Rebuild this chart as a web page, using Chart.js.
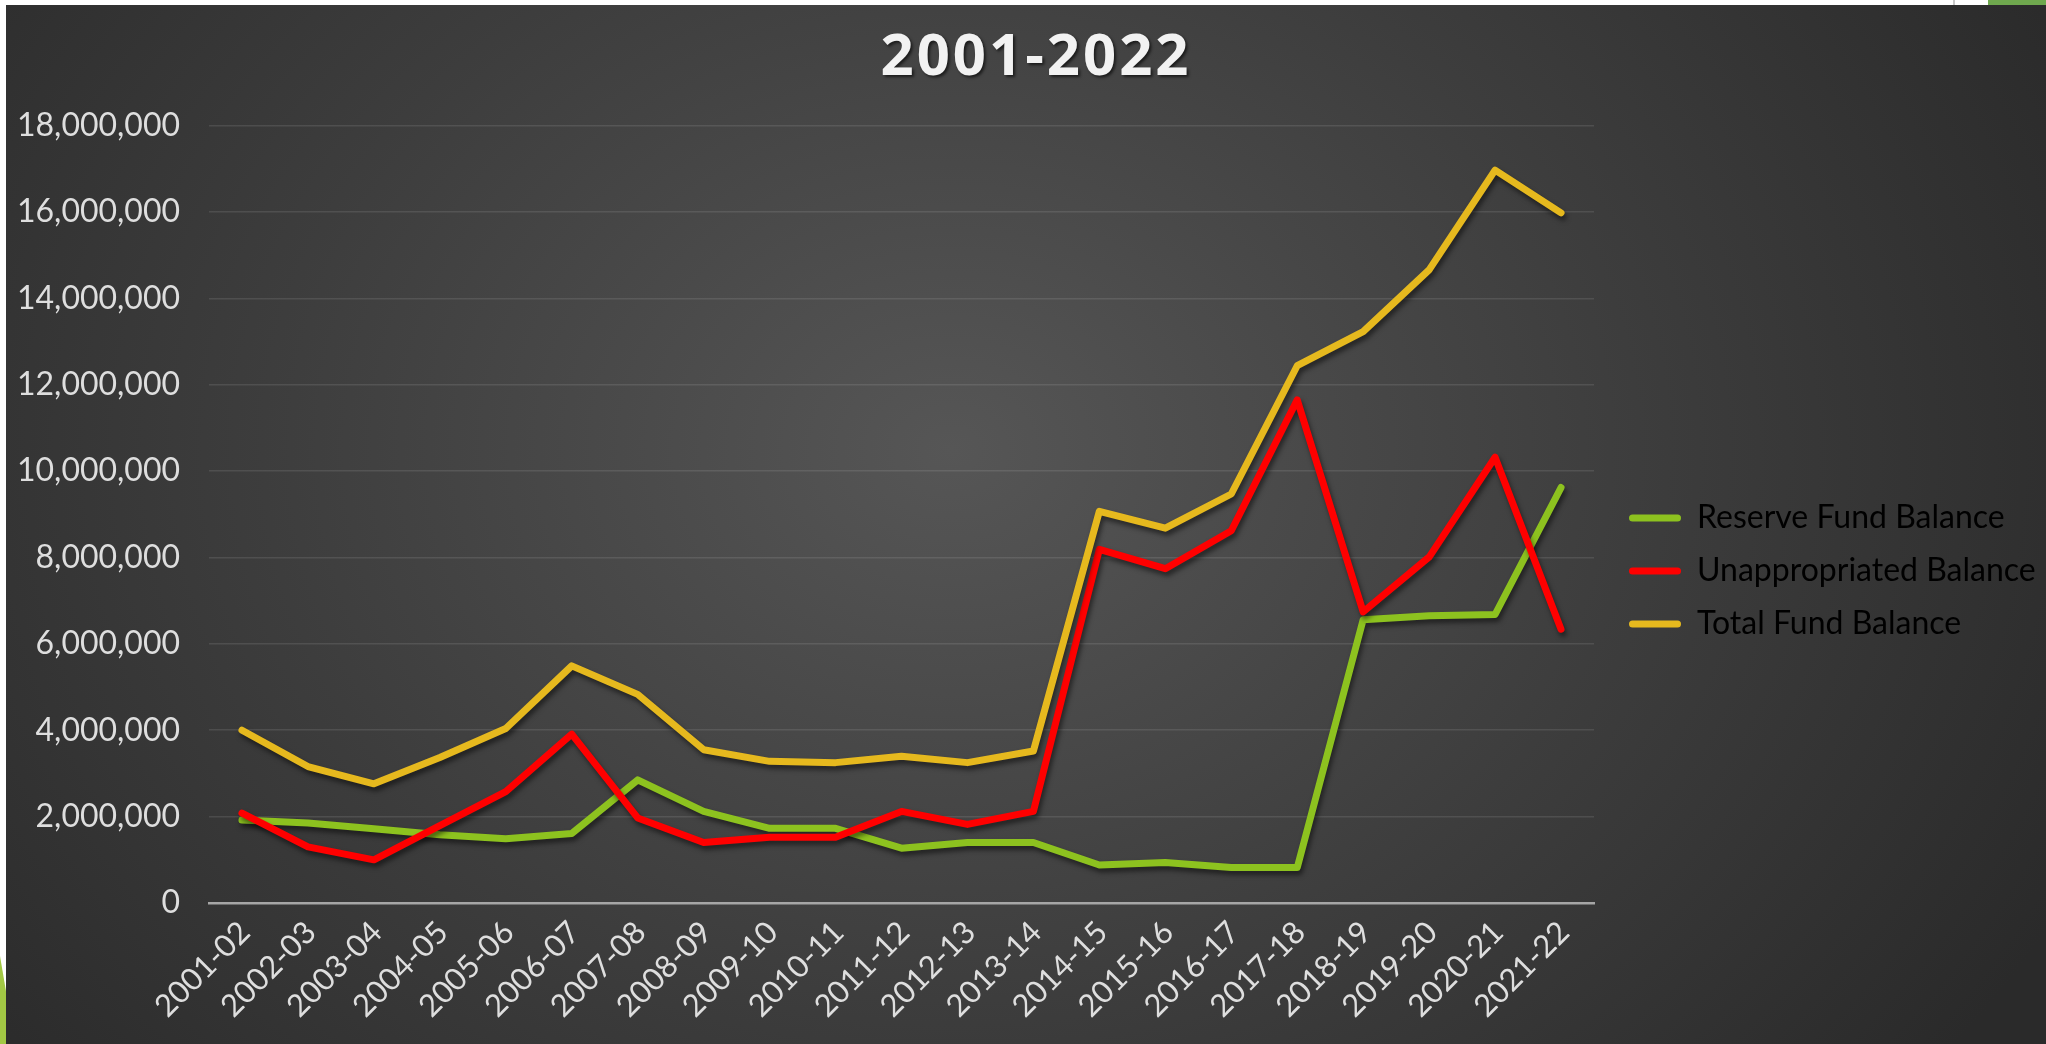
<!DOCTYPE html>
<html lang="en">
<head>
<meta charset="utf-8">
<title>2001-2022</title>
<script src="https://cdn.jsdelivr.net/npm/chart.js@4.4.1/dist/chart.umd.min.js"></script>
<style>
  html, body { margin: 0; padding: 0; }
  body { width: 2046px; height: 1044px; overflow: hidden; position: relative; background: #ffffff; }
  .slide {
    position: absolute; left: 6px; top: 5px; width: 2040px; height: 1039px;
    background: radial-gradient(ellipse 1250px 1000px at 945px 445px, #565656 0%, #3d3d3d 55%, #2a2a2a 100%);
  }
  .accent-top { position: absolute; left: 1988px; top: 0; width: 58px; height: 5px; background: #6fa84e; }
  .accent-line { position: absolute; left: 1953px; top: 0; width: 2px; height: 5px; background: #c8c8c8; }
  .accent-left {
    position: absolute; left: 0; top: 956px; width: 6px; height: 88px; background: #a2c844;
    clip-path: polygon(0 0, 100% 40%, 100% 100%, 0 100%);
  }
  .chart-box { position: absolute; left: 0; top: 0; width: 2046px; height: 1044px; }
</style>
</head>
<body>
<div class="slide"></div>
<div class="accent-top"></div>
<div class="accent-line"></div>
<div class="accent-left"></div>
<div class="chart-box"><canvas id="fundChart"></canvas></div>

<script>
// fiscal years on the x axis
const seasons = ['2001-02', '2002-03', '2003-04', '2004-05', '2005-06', '2006-07', '2007-08',
  '2008-09', '2009-10', '2010-11', '2011-12', '2012-13', '2013-14', '2014-15', '2015-16',
  '2016-17', '2017-18', '2018-19', '2019-20', '2020-21', '2021-22'];

// values
const reserveFund = [1920000, 1850000, 1720000, 1580000, 1490000, 1610000, 2850000, 2120000,
  1730000, 1730000, 1270000, 1400000, 1400000, 880000, 940000, 820000, 820000, 6560000,
  6650000, 6680000, 9620000];
const unappropriated = [2080000, 1300000, 1000000, 1790000, 2580000, 3910000, 1970000, 1400000,
  1520000, 1520000, 2120000, 1820000, 2120000, 8190000, 7740000, 8620000, 11650000, 6740000,
  8010000, 10320000, 6340000];
const totalFund = [4000000, 3160000, 2760000, 3370000, 4040000, 5490000, 4830000, 3550000,
  3280000, 3250000, 3400000, 3250000, 3520000, 9070000, 8680000, 9470000, 12440000, 13230000,
  14660000, 16970000, 15980000];

const seriesNames = ['Reserve Fund Balance', 'Unappropriated Balance', 'Total Fund Balance'];

// y axis ticks: 0 .. 18,000,000 every 2,000,000
const yMin = 0;
const yMax = 18000000;
const yStep = 2000000;

const textColor = '#dedede';

Chart.defaults.font.family = 'Lato';

function lineSet(label, data, color, order) {
  return {
    label: label,
    data: data,
    borderColor: color,
    backgroundColor: color,
    borderWidth: 7,
    pointRadius: 0,
    pointHoverRadius: 0,
    tension: 0,
    fill: false,
    borderCapStyle: 'round',
    borderJoinStyle: 'round',
    order: order
  };
}

// soft drop shadow under the lines
const lineShadow = {
  id: 'lineShadow',
  beforeDatasetsDraw(chart) {
    const ctx = chart.ctx;
    ctx.save();
    ctx.shadowColor = 'rgba(0, 0, 0, 0.5)';
    ctx.shadowBlur = 5;
    ctx.shadowOffsetX = 2;
    ctx.shadowOffsetY = 4;
  },
  afterDatasetsDraw(chart) {
    chart.ctx.restore();
  }
};

// spaced, shadowed title; legend nudged to where it sits in the slide
const boxTweaks = {
  id: 'boxTweaks',
  beforeLayout(chart) {
    const lg = chart.legend;
    if (lg && !lg._fixedWidth) {
      const fit = lg.fit.bind(lg);
      lg.fit = function () { fit(); this.width = 452; };
      lg._fixedWidth = true;
    }
  },
  afterLayout(chart) {
    const lg = chart.legend;
    if (lg) {
      lg.left += 14; lg.right += 14;
      lg.top += 49; lg.bottom += 49;
    }
    const t = chart.titleBlock;
    if (t && !t._styled) {
      const draw = t.draw.bind(t);
      t.draw = function () {
        const ctx = chart.ctx;
        ctx.save();
        ctx.letterSpacing = '3px';
        ctx.shadowColor = 'rgba(0, 0, 0, 0.6)';
        ctx.shadowBlur = 3;
        ctx.shadowOffsetX = 2;
        ctx.shadowOffsetY = 2;
        ctx.translate(13, 0);
        draw();
        ctx.restore();
      };
      t._styled = true;
    }
  }
};

new Chart(document.getElementById('fundChart'), {
  type: 'line',
  data: {
    labels: seasons,
    datasets: [
      lineSet(seriesNames[0], reserveFund, '#8dc21f', 3),
      lineSet(seriesNames[1], unappropriated, '#ff0000', 2),
      lineSet(seriesNames[2], totalFund, '#e6b91e', 1)
    ]
  },
  options: {
    responsive: true,
    maintainAspectRatio: false,
    animation: false,
    layout: { padding: 0 },
    plugins: {
      title: {
        display: true,
        text: '2001-2022',
        color: '#f2f2f2',
        font: { family: 'Open Sans', size: 58, weight: 'bold', lineHeight: 1.2 },
        padding: { top: 24, bottom: 32 }
      },
      legend: {
        position: 'right',
        align: 'center',
        labels: {
          color: textColor,
          font: { size: 32 },
          boxWidth: 52,
          boxHeight: 7,
          useBorderRadius: true,
          borderRadius: 3.5,
          padding: 21,
          generateLabels: (chart) => chart.data.datasets.map((ds, i) => ({
            text: ds.label,
            fillStyle: ds.borderColor,
            strokeStyle: ds.borderColor,
            lineWidth: 0,
            borderRadius: 3.5,
            hidden: false,
            datasetIndex: i
          }))
        }
      },
      tooltip: { enabled: false }
    },
    scales: {
      x: {
        offset: true,
        grid: { display: false, drawTicks: false },
        border: { display: true, color: '#a6a6a6', width: 2.5 },
        ticks: {
          color: textColor,
          font: { size: 31 },
          minRotation: 45,
          maxRotation: 45,
          autoSkip: false,
          padding: 11,
          labelOffset: 3
        },
        afterFit: (scale) => { scale.height = 141; }
      },
      y: {
        min: yMin,
        max: yMax,
        grid: { color: 'rgba(255, 255, 255, 0.1)', lineWidth: 1.5, drawTicks: false },
        border: { display: false },
        ticks: {
          stepSize: yStep,
          color: textColor,
          font: { size: 32 },
          padding: 29,
          callback: (v) => Number(v).toLocaleString('en-US')
        },
        afterFit: (scale) => { scale.width = 209; }
      }
    }
  },
  plugins: [lineShadow, boxTweaks]
});
</script>
</body>
</html>
